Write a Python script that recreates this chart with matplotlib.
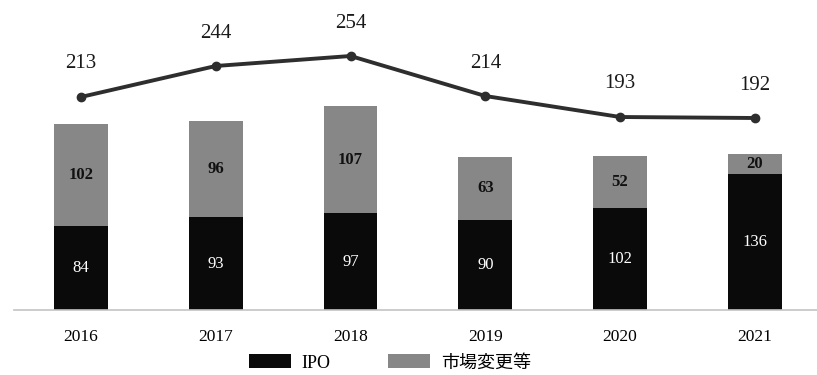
import matplotlib.pyplot as plt
import numpy as np

years = ["2016", "2017", "2018", "2019", "2020", "2021"]
ipo = [84, 93, 97, 90, 102, 136]
market_change = [102, 96, 107, 63, 52, 20]
total = [213, 244, 254, 214, 193, 192]

serif = ["Liberation Serif", "DejaVu Serif"]
mixed = ["Liberation Serif", "Noto Sans CJK JP", "DejaVu Sans"]

fig = plt.figure(figsize=(8.17, 3.75), dpi=100)
ax = fig.add_axes([13.5 / 817, 65 / 375, 803.5 / 817, 310 / 375])

x = np.arange(len(years))
w = 0.4
ax.bar(x, ipo, w, color="#0a0a0a", label="IPO")
ax.bar(x, market_change, w, bottom=ipo, color="#878787", label="市場変更等")
ax.plot(x, total, color="#2e2e2e", lw=2.8, marker="o", ms=6, zorder=3)

for i in range(len(years)):
    ax.text(x[i], ipo[i] / 2, str(ipo[i]), color="white", ha="center", va="center",
            fontsize=12, family=serif)
    ax.text(x[i], ipo[i] + market_change[i] / 2, str(market_change[i]), color="#111111",
            ha="center", va="center", fontsize=12, family=serif, fontweight="bold")
    ax.text(x[i], total[i] + 33, str(total[i]), ha="center", va="center",
            fontsize=15, family=serif, color="#1a1a1a")

ax.set_xlim(-0.5, -0.5 + 803.5 / 134.8)
ax.set_ylim(0, 310)
ax.set_xticks(x)
ax.set_xticklabels(years, family=serif, fontsize=12.5)
ax.tick_params(axis="x", length=0, pad=14)
ax.set_yticks([])
for s in ["top", "right", "left"]:
    ax.spines[s].set_visible(False)
ax.spines["bottom"].set_color("#c4c4c4")
ax.spines["bottom"].set_linewidth(1.2)

fig.legend(loc="center", bbox_to_anchor=(390 / 817, 1 - 363 / 375), ncol=2,
           frameon=False, handlelength=2.3, handleheight=0.8, handletextpad=0.6,
           columnspacing=3.2, prop={"family": mixed, "size": 13})

fig.savefig("out.png", dpi=100)
